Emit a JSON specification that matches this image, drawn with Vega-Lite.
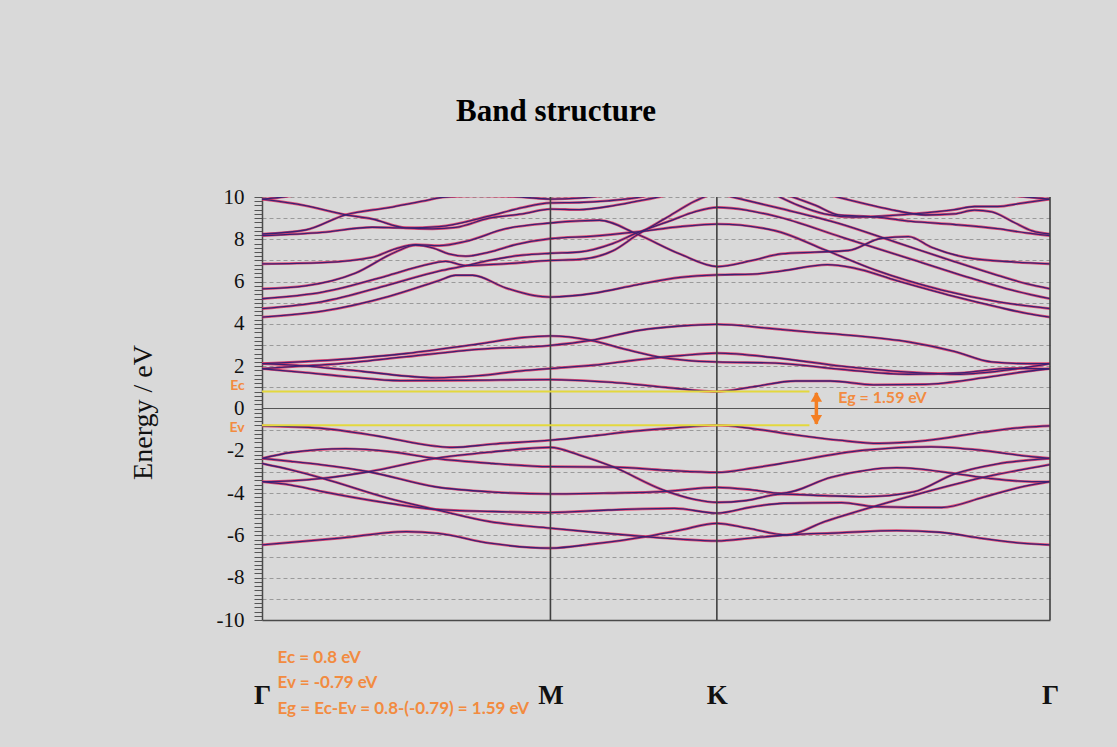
{
"$schema": "https://vega.github.io/schema/vega-lite/v6.json",
"width": 788, "height": 423,
"autosize": {"type": "none"},
"padding": {"left": 262, "top": 197, "right": 67, "bottom": 127},
"background": "#d9d9d9",
"config": {"view": {"stroke": null, "fill": "#d9d9d9"}},
"title": {"text": "Band structure", "font": "Liberation Serif", "fontSize": 31, "fontWeight": "bold", "color": "#000000", "frame": "group", "anchor": "middle", "dx": -100, "offset": 58},
"datasets": {
"bands": [
{"b":"V1","k":0,"e":-0.82},{"b":"V1","k":0.2,"e":-0.93},{"b":"V1","k":0.4,"e":-1.3},{"b":"V1","k":0.6,"e":-1.78},{"b":"V1","k":0.66,"e":-1.84},{"b":"V1","k":0.8,"e":-1.68},{"b":"V1","k":1,"e":-1.5},{"b":"V1","k":1.15,"e":-1.29},{"b":"V1","k":1.29,"e":-1.07},{"b":"V1","k":1.43,"e":-0.92},{"b":"V1","k":1.577,"e":-0.79},{"b":"V1","k":1.7,"e":-0.95},{"b":"V1","k":1.85,"e":-1.25},{"b":"V1","k":2,"e":-1.5},{"b":"V1","k":2.14,"e":-1.65},{"b":"V1","k":2.3,"e":-1.52},{"b":"V1","k":2.5,"e":-1.12},{"b":"V1","k":2.65,"e":-0.88},{"b":"V1","k":2.732,"e":-0.82},
{"b":"V2","k":0,"e":-2.36},{"b":"V2","k":0.1,"e":-2.08},{"b":"V2","k":0.29,"e":-1.9},{"b":"V2","k":0.45,"e":-2.05},{"b":"V2","k":0.6,"e":-2.36},{"b":"V2","k":0.8,"e":-2.6},{"b":"V2","k":1,"e":-2.75},{"b":"V2","k":1.22,"e":-2.77},{"b":"V2","k":1.4,"e":-2.92},{"b":"V2","k":1.577,"e":-3.02},{"b":"V2","k":1.7,"e":-2.82},{"b":"V2","k":1.8,"e":-2.6},{"b":"V2","k":2.09,"e":-1.97},{"b":"V2","k":2.32,"e":-1.81},{"b":"V2","k":2.49,"e":-1.97},{"b":"V2","k":2.62,"e":-2.2},{"b":"V2","k":2.732,"e":-2.36},
{"b":"V3","k":0,"e":-3.46},{"b":"V3","k":0.1,"e":-3.42},{"b":"V3","k":0.21,"e":-3.3},{"b":"V3","k":0.37,"e":-2.99},{"b":"V3","k":0.6,"e":-2.36},{"b":"V3","k":0.8,"e":-2.05},{"b":"V3","k":1,"e":-1.84},{"b":"V3","k":1.1,"e":-2.2},{"b":"V3","k":1.216,"e":-2.75},{"b":"V3","k":1.39,"e":-3.85},{"b":"V3","k":1.5,"e":-4.3},{"b":"V3","k":1.577,"e":-4.44},{"b":"V3","k":1.68,"e":-4.35},{"b":"V3","k":1.8,"e":-4.05},{"b":"V3","k":1.95,"e":-4.12},{"b":"V3","k":2.09,"e":-4.17},{"b":"V3","k":2.26,"e":-3.94},{"b":"V3","k":2.4,"e":-3.1},{"b":"V3","k":2.55,"e":-2.62},{"b":"V3","k":2.732,"e":-2.36},
{"b":"V4","k":0,"e":-2.36},{"b":"V4","k":0.1,"e":-2.5},{"b":"V4","k":0.21,"e":-2.67},{"b":"V4","k":0.37,"e":-2.99},{"b":"V4","k":0.6,"e":-3.7},{"b":"V4","k":0.8,"e":-3.95},{"b":"V4","k":1,"e":-4.04},{"b":"V4","k":1.2,"e":-4},{"b":"V4","k":1.39,"e":-3.93},{"b":"V4","k":1.577,"e":-3.73},{"b":"V4","k":1.7,"e":-3.85},{"b":"V4","k":1.8,"e":-4.01},{"b":"V4","k":1.975,"e":-3.25},{"b":"V4","k":2.2,"e":-2.8},{"b":"V4","k":2.4,"e":-3.07},{"b":"V4","k":2.52,"e":-3.3},{"b":"V4","k":2.67,"e":-3.46},{"b":"V4","k":2.732,"e":-3.46},
{"b":"V5","k":0,"e":-2.6},{"b":"V5","k":0.1,"e":-2.9},{"b":"V5","k":0.21,"e":-3.3},{"b":"V5","k":0.44,"e":-4.25},{"b":"V5","k":0.6,"e":-4.77},{"b":"V5","k":0.79,"e":-5.35},{"b":"V5","k":1,"e":-5.66},{"b":"V5","k":1.15,"e":-5.85},{"b":"V5","k":1.33,"e":-6.06},{"b":"V5","k":1.45,"e":-6.18},{"b":"V5","k":1.577,"e":-6.26},{"b":"V5","k":1.7,"e":-6.12},{"b":"V5","k":1.82,"e":-5.98},{"b":"V5","k":2,"e":-5.88},{"b":"V5","k":2.2,"e":-5.77},{"b":"V5","k":2.35,"e":-5.85},{"b":"V5","k":2.5,"e":-6.15},{"b":"V5","k":2.62,"e":-6.35},{"b":"V5","k":2.732,"e":-6.45},
{"b":"V6","k":0,"e":-3.46},{"b":"V6","k":0.1,"e":-3.62},{"b":"V6","k":0.21,"e":-3.93},{"b":"V6","k":0.44,"e":-4.48},{"b":"V6","k":0.6,"e":-4.77},{"b":"V6","k":0.8,"e":-4.87},{"b":"V6","k":1,"e":-4.92},{"b":"V6","k":1.2,"e":-4.8},{"b":"V6","k":1.43,"e":-4.72},{"b":"V6","k":1.577,"e":-4.95},{"b":"V6","k":1.7,"e":-4.65},{"b":"V6","k":1.81,"e":-4.48},{"b":"V6","k":2.01,"e":-4.45},{"b":"V6","k":2.125,"e":-4.64},{"b":"V6","k":2.357,"e":-4.68},{"b":"V6","k":2.5,"e":-4.2},{"b":"V6","k":2.62,"e":-3.75},{"b":"V6","k":2.732,"e":-3.46},
{"b":"V7","k":0,"e":-6.45},{"b":"V7","k":0.27,"e":-6.13},{"b":"V7","k":0.5,"e":-5.82},{"b":"V7","k":0.61,"e":-5.9},{"b":"V7","k":0.79,"e":-6.37},{"b":"V7","k":1,"e":-6.6},{"b":"V7","k":1.15,"e":-6.4},{"b":"V7","k":1.33,"e":-6.06},{"b":"V7","k":1.45,"e":-5.75},{"b":"V7","k":1.577,"e":-5.43},{"b":"V7","k":1.685,"e":-5.66},{"b":"V7","k":1.82,"e":-5.98},{"b":"V7","k":1.95,"e":-5.35},{"b":"V7","k":2.12,"e":-4.64},{"b":"V7","k":2.3,"e":-3.95},{"b":"V7","k":2.52,"e":-3.2},{"b":"V7","k":2.732,"e":-2.65},
{"b":"C1","k":0,"e":1.88},{"b":"C1","k":0.15,"e":1.7},{"b":"C1","k":0.3,"e":1.5},{"b":"C1","k":0.48,"e":1.32},{"b":"C1","k":0.7,"e":1.33},{"b":"C1","k":1,"e":1.37},{"b":"C1","k":1.2,"e":1.25},{"b":"C1","k":1.4,"e":1},{"b":"C1","k":1.5,"e":0.86},{"b":"C1","k":1.577,"e":0.8},{"b":"C1","k":1.7,"e":1.02},{"b":"C1","k":1.85,"e":1.3},{"b":"C1","k":1.97,"e":1.3},{"b":"C1","k":2.12,"e":1.12},{"b":"C1","k":2.3,"e":1.14},{"b":"C1","k":2.5,"e":1.45},{"b":"C1","k":2.65,"e":1.75},{"b":"C1","k":2.732,"e":1.88},
{"b":"C2","k":0,"e":2.12},{"b":"C2","k":0.13,"e":2.03},{"b":"C2","k":0.35,"e":1.75},{"b":"C2","k":0.6,"e":1.45},{"b":"C2","k":0.75,"e":1.55},{"b":"C2","k":0.9,"e":1.78},{"b":"C2","k":1,"e":1.89},{"b":"C2","k":1.15,"e":2.05},{"b":"C2","k":1.3,"e":2.3},{"b":"C2","k":1.45,"e":2.5},{"b":"C2","k":1.577,"e":2.62},{"b":"C2","k":1.78,"e":2.4},{"b":"C2","k":2.01,"e":2},{"b":"C2","k":2.24,"e":1.72},{"b":"C2","k":2.42,"e":1.62},{"b":"C2","k":2.6,"e":1.85},{"b":"C2","k":2.732,"e":2.12},
{"b":"C3","k":0,"e":1.88},{"b":"C3","k":0.13,"e":2},{"b":"C3","k":0.25,"e":2.1},{"b":"C3","k":0.5,"e":2.45},{"b":"C3","k":0.75,"e":2.8},{"b":"C3","k":1,"e":2.98},{"b":"C3","k":1.14,"e":3.22},{"b":"C3","k":1.31,"e":3.7},{"b":"C3","k":1.45,"e":3.9},{"b":"C3","k":1.577,"e":3.98},{"b":"C3","k":1.75,"e":3.8},{"b":"C3","k":1.894,"e":3.62},{"b":"C3","k":2.05,"e":3.45},{"b":"C3","k":2.241,"e":3.15},{"b":"C3","k":2.4,"e":2.7},{"b":"C3","k":2.53,"e":2.2},{"b":"C3","k":2.65,"e":2.12},{"b":"C3","k":2.732,"e":2.12},
{"b":"C4","k":0,"e":2.12},{"b":"C4","k":0.25,"e":2.3},{"b":"C4","k":0.5,"e":2.6},{"b":"C4","k":0.75,"e":3.05},{"b":"C4","k":0.9,"e":3.35},{"b":"C4","k":1,"e":3.43},{"b":"C4","k":1.14,"e":3.22},{"b":"C4","k":1.26,"e":2.8},{"b":"C4","k":1.37,"e":2.45},{"b":"C4","k":1.47,"e":2.28},{"b":"C4","k":1.577,"e":2.2},{"b":"C4","k":1.78,"e":2.15},{"b":"C4","k":2.01,"e":1.85},{"b":"C4","k":2.24,"e":1.62},{"b":"C4","k":2.42,"e":1.68},{"b":"C4","k":2.6,"e":1.9},{"b":"C4","k":2.732,"e":1.88},
{"b":"U1","k":0,"e":9.9},{"b":"U1","k":0.1,"e":10.05},{"b":"U1","k":0.2,"e":10.35},
{"b":"U2","k":0,"e":9.9},{"b":"U2","k":0.151,"e":9.59},{"b":"U2","k":0.29,"e":9.16},{"b":"U2","k":0.382,"e":8.96},{"b":"U2","k":0.498,"e":8.54},{"b":"U2","k":0.591,"e":8.49},{"b":"U2","k":0.672,"e":8.56},{"b":"U2","k":0.787,"e":9},{"b":"U2","k":0.903,"e":9.2},{"b":"U2","k":1,"e":9.43},{"b":"U2","k":1.1,"e":9.4},{"b":"U2","k":1.2,"e":9.55},{"b":"U2","k":1.3,"e":9.8},{"b":"U2","k":1.39,"e":10.05},{"b":"U2","k":1.45,"e":10.3},
{"b":"U3","k":0,"e":8.25},{"b":"U3","k":0.151,"e":8.44},{"b":"U3","k":0.29,"e":9.16},{"b":"U3","k":0.44,"e":9.5},{"b":"U3","k":0.556,"e":9.8},{"b":"U3","k":0.637,"e":10},{"b":"U3","k":0.75,"e":10.05},{"b":"U3","k":0.9,"e":10},{"b":"U3","k":1,"e":9.9},{"b":"U3","k":1.1,"e":9.95},{"b":"U3","k":1.2,"e":10.1},{"b":"U3","k":1.3,"e":10.4},
{"b":"U4","k":0,"e":8.17},{"b":"U4","k":0.209,"e":8.33},{"b":"U4","k":0.382,"e":8.57},{"b":"U4","k":0.498,"e":8.54},{"b":"U4","k":0.614,"e":8.6},{"b":"U4","k":0.787,"e":9.1},{"b":"U4","k":0.903,"e":9.5},{"b":"U4","k":1,"e":9.72},{"b":"U4","k":1.1,"e":9.74},{"b":"U4","k":1.2,"e":9.82},{"b":"U4","k":1.3,"e":9.97},{"b":"U4","k":1.35,"e":10.1},{"b":"U4","k":1.4,"e":10.3},
{"b":"U5","k":0,"e":6.84},{"b":"U5","k":0.209,"e":6.9},{"b":"U5","k":0.382,"e":7.15},{"b":"U5","k":0.463,"e":7.55},{"b":"U5","k":0.533,"e":7.75},{"b":"U5","k":0.614,"e":7.7},{"b":"U5","k":0.706,"e":7.9},{"b":"U5","k":0.845,"e":8.5},{"b":"U5","k":1,"e":8.77},{"b":"U5","k":1.1,"e":8.87},{"b":"U5","k":1.17,"e":8.9},{"b":"U5","k":1.3,"e":8.25},{"b":"U5","k":1.448,"e":7.31},{"b":"U5","k":1.579,"e":6.71},{"b":"U5","k":1.7,"e":7},{"b":"U5","k":1.8,"e":7.31},{"b":"U5","k":1.917,"e":7.39},{"b":"U5","k":2.033,"e":7.47},{"b":"U5","k":2.148,"e":8.05},{"b":"U5","k":2.241,"e":8.13},{"b":"U5","k":2.322,"e":7.62},{"b":"U5","k":2.438,"e":7.15},{"b":"U5","k":2.612,"e":6.92},{"b":"U5","k":2.732,"e":6.84},
{"b":"U6","k":0,"e":5.66},{"b":"U6","k":0.151,"e":5.8},{"b":"U6","k":0.324,"e":6.4},{"b":"U6","k":0.463,"e":7.4},{"b":"U6","k":0.533,"e":7.72},{"b":"U6","k":0.591,"e":7.6},{"b":"U6","k":0.648,"e":7.31},{"b":"U6","k":0.706,"e":7.2},{"b":"U6","k":0.787,"e":7.39},{"b":"U6","k":0.88,"e":7.75},{"b":"U6","k":1,"e":8.03},{"b":"U6","k":1.15,"e":8.15},{"b":"U6","k":1.3,"e":8.35},{"b":"U6","k":1.45,"e":8.6},{"b":"U6","k":1.579,"e":8.72},{"b":"U6","k":1.778,"e":8.41},{"b":"U6","k":1.952,"e":7.5},{"b":"U6","k":2.125,"e":6.55},{"b":"U6","k":2.357,"e":5.6},{"b":"U6","k":2.55,"e":5.05},{"b":"U6","k":2.732,"e":4.72},
{"b":"U7","k":0,"e":5.19},{"b":"U7","k":0.209,"e":5.5},{"b":"U7","k":0.44,"e":6.3},{"b":"U7","k":0.556,"e":6.75},{"b":"U7","k":0.637,"e":6.96},{"b":"U7","k":0.706,"e":6.76},{"b":"U7","k":0.85,"e":6.85},{"b":"U7","k":1,"e":7},{"b":"U7","k":1.1,"e":7.05},{"b":"U7","k":1.216,"e":7.45},{"b":"U7","k":1.3,"e":8.2},{"b":"U7","k":1.4,"e":9},{"b":"U7","k":1.5,"e":9.8},{"b":"U7","k":1.55,"e":10.1},{"b":"U7","k":1.6,"e":10.4},
{"b":"U8","k":0,"e":4.72},{"b":"U8","k":0.209,"e":5.05},{"b":"U8","k":0.44,"e":5.85},{"b":"U8","k":0.614,"e":6.5},{"b":"U8","k":0.706,"e":6.75},{"b":"U8","k":0.787,"e":7},{"b":"U8","k":0.903,"e":7.25},{"b":"U8","k":1,"e":7.34},{"b":"U8","k":1.1,"e":7.4},{"b":"U8","k":1.216,"e":7.8},{"b":"U8","k":1.3,"e":8.3},{"b":"U8","k":1.42,"e":8.9},{"b":"U8","k":1.5,"e":9.3},{"b":"U8","k":1.579,"e":9.51},{"b":"U8","k":1.778,"e":9.1},{"b":"U8","k":2.01,"e":8.1},{"b":"U8","k":2.241,"e":7.1},{"b":"U8","k":2.473,"e":6.1},{"b":"U8","k":2.6,"e":5.6},{"b":"U8","k":2.732,"e":5.19},
{"b":"U9","k":0,"e":4.32},{"b":"U9","k":0.209,"e":4.6},{"b":"U9","k":0.44,"e":5.3},{"b":"U9","k":0.614,"e":6.05},{"b":"U9","k":0.672,"e":6.3},{"b":"U9","k":0.73,"e":6.3},{"b":"U9","k":0.845,"e":5.7},{"b":"U9","k":0.94,"e":5.35},{"b":"U9","k":1,"e":5.27},{"b":"U9","k":1.15,"e":5.45},{"b":"U9","k":1.3,"e":5.85},{"b":"U9","k":1.45,"e":6.2},{"b":"U9","k":1.579,"e":6.32},{"b":"U9","k":1.7,"e":6.35},{"b":"U9","k":1.8,"e":6.5},{"b":"U9","k":1.96,"e":6.8},{"b":"U9","k":2.05,"e":6.65},{"b":"U9","k":2.2,"e":6.05},{"b":"U9","k":2.4,"e":5.3},{"b":"U9","k":2.55,"e":4.8},{"b":"U9","k":2.65,"e":4.5},{"b":"U9","k":2.732,"e":4.32},
{"b":"X1","k":1.6,"e":10.1},{"b":"X1","k":1.8,"e":9.45},{"b":"X1","k":2,"e":8.75},{"b":"X1","k":2.2,"e":7.85},{"b":"X1","k":2.4,"e":6.95},{"b":"X1","k":2.55,"e":6.3},{"b":"X1","k":2.65,"e":5.9},{"b":"X1","k":2.732,"e":5.66},
{"b":"Y1","k":1.78,"e":10.1},{"b":"Y1","k":1.86,"e":9.6},{"b":"Y1","k":1.95,"e":9.2},{"b":"Y1","k":2.05,"e":9.05},{"b":"Y1","k":2.15,"e":9.1},{"b":"Y1","k":2.3,"e":9.25},{"b":"Y1","k":2.4,"e":9.4},{"b":"Y1","k":2.47,"e":9.55},{"b":"Y1","k":2.55,"e":9.55},{"b":"Y1","k":2.63,"e":9.7},{"b":"Y1","k":2.732,"e":9.9},
{"b":"Y2","k":1.98,"e":10.05},{"b":"Y2","k":2.1,"e":9.65},{"b":"Y2","k":2.2,"e":9.35},{"b":"Y2","k":2.3,"e":9.15},{"b":"Y2","k":2.4,"e":9.2},{"b":"Y2","k":2.47,"e":9.38},{"b":"Y2","k":2.53,"e":9.3},{"b":"Y2","k":2.6,"e":8.85},{"b":"Y2","k":2.67,"e":8.4},{"b":"Y2","k":2.732,"e":8.25},
{"b":"Y3","k":1.83,"e":10.05},{"b":"Y3","k":1.92,"e":9.6},{"b":"Y3","k":2,"e":9.15},{"b":"Y3","k":2.07,"e":9.1},{"b":"Y3","k":2.13,"e":9.05},{"b":"Y3","k":2.25,"e":8.85},{"b":"Y3","k":2.4,"e":8.7},{"b":"Y3","k":2.55,"e":8.5},{"b":"Y3","k":2.65,"e":8.3},{"b":"Y3","k":2.732,"e":8.17},
{"b":"Y4","k":2.58,"e":10.1},{"b":"Y4","k":2.65,"e":10},{"b":"Y4","k":2.732,"e":9.9}
],
"zero": [{"k": 0, "e": 0}],
"sym": [{"k": 1, "e": 0}, {"k": 1.577, "e": 0}, {"k": 2.732, "e": 0}],
"levels": [{"k": 0, "k1": 1.898, "e": 0.8}, {"k": 0, "k1": 1.898, "e": -0.79}],
"arrow": [{"k": 1.922, "e": 0.74, "bot": -0.73, "up": 0.55, "dn": -0.54}],
"sidelabels": [{"k": -0.06, "e": 1.05, "t": "Ec"}, {"k": -0.06, "e": -0.93, "t": "Ev"}],
"eg": [{"k": 1.998, "e": 0.49, "t": "Eg = 1.59 eV"}],
"notes": [{"k": 0.054, "e": -11.79, "t": "Ec = 0.8 eV"}, {"k": 0.054, "e": -13.0, "t": "Ev = -0.79 eV"}, {"k": 0.054, "e": -14.2, "t": "Eg = Ec-Ev = 0.8-(-0.79) = 1.59 eV"}]
},
"layer": [
{"data": {"name": "bands"}, "mark": {"type": "line", "interpolate": "monotone", "clip": true, "color": "#df3060", "strokeWidth": 2.6, "opacity": 0.85},
 "encoding": {
  "x": {"field": "k", "type": "quantitative", "scale": {"domain": [0, 2.732], "nice": false, "zero": false},
   "axis": {"values": [0, 1, 1.577, 2.732], "labelExpr": "datum.value < 0.5 || datum.value > 2.5 ? 'Γ' : (datum.value < 1.2 ? 'M' : 'K')", "title": null, "grid": false, "ticks": false, "tickSize": 0, "domain": true, "domainColor": "#4a4a4a", "domainWidth": 1.5, "labelFont": "Liberation Serif", "labelFontSize": 27, "labelFontWeight": "bold", "labelColor": "#111111", "labelPadding": 62, "labelFlush": false, "labelOverlap": false, "labelBound": false}},
  "y": {"field": "e", "type": "quantitative", "scale": {"domain": [-10, 10], "nice": false, "zero": false},
   "axis": {"tickCount": 100, "labelExpr": "datum.value % 2 === 0 ? '' + datum.value : ''", "labelOverlap": false, "labelBound": false, "labelFont": "Liberation Serif", "labelFontSize": 21, "labelColor": "#111111", "labelPadding": 10, "ticks": true, "tickSize": 8, "tickColor": "#555555", "tickWidth": 1, "domain": true, "domainColor": "#4a4a4a", "domainWidth": 1.5,
    "grid": true, "gridColor": "#9a9a9a", "gridDash": [4, 3], "gridWidth": 1,
    "gridOpacity": {"condition": {"test": "datum.value % 1 === 0 && datum.value !== 0 && datum.value !== -10", "value": 1}, "value": 0},
    "title": "Energy / eV", "titleFont": "Liberation Serif", "titleFontSize": 28, "titleFontWeight": "normal", "titleColor": "#111111", "titleAngle": -90, "titleX": -119, "titleY": 215, "titleAlign": "center", "titleBaseline": "middle"}},
  "detail": {"field": "b", "type": "nominal"}}},
{"data": {"name": "bands"}, "mark": {"type": "line", "interpolate": "monotone", "clip": true, "color": "#3a2274", "strokeWidth": 1.3},
 "encoding": {
  "x": {"field": "k", "type": "quantitative"},
  "y": {"field": "e", "type": "quantitative"},
  "detail": {"field": "b", "type": "nominal"}}},
{"data": {"name": "zero"}, "mark": {"type": "rule", "color": "#555555", "strokeWidth": 1},
 "encoding": {"y": {"field": "e", "type": "quantitative"}}},
{"data": {"name": "sym"}, "mark": {"type": "rule", "color": "#3f3f3f", "strokeWidth": 1.6},
 "encoding": {"x": {"field": "k", "type": "quantitative"}}},
{"data": {"name": "levels"}, "mark": {"type": "rule", "color": "#e3d83e", "strokeWidth": 2},
 "encoding": {
  "x": {"field": "k", "type": "quantitative"},
  "x2": {"field": "k1"},
  "y": {"field": "e", "type": "quantitative"}}},
{"data": {"name": "arrow"}, "mark": {"type": "rule", "color": "#f47f24", "strokeWidth": 3.5},
 "encoding": {
  "x": {"field": "k", "type": "quantitative"},
  "y": {"field": "e", "type": "quantitative"},
  "y2": {"field": "bot"}}},
{"data": {"name": "arrow"}, "mark": {"type": "point", "shape": "triangle-up", "filled": true, "color": "#f47f24", "size": 130, "opacity": 1},
 "encoding": {
  "x": {"field": "k", "type": "quantitative"},
  "y": {"field": "up", "type": "quantitative"}}},
{"data": {"name": "arrow"}, "mark": {"type": "point", "shape": "triangle-down", "filled": true, "color": "#f47f24", "size": 130, "opacity": 1},
 "encoding": {
  "x": {"field": "k", "type": "quantitative"},
  "y": {"field": "dn", "type": "quantitative"}}},
{"data": {"name": "sidelabels"}, "mark": {"type": "text", "align": "right", "baseline": "middle", "font": "Lato", "fontWeight": "bold", "fontSize": 14, "color": "#f28b40"},
 "encoding": {
  "x": {"field": "k", "type": "quantitative"},
  "y": {"field": "e", "type": "quantitative"},
  "text": {"field": "t"}}},
{"data": {"name": "eg"}, "mark": {"type": "text", "align": "left", "baseline": "middle", "font": "Lato", "fontWeight": "bold", "fontSize": 16, "color": "#f28b40"},
 "encoding": {
  "x": {"field": "k", "type": "quantitative"},
  "y": {"field": "e", "type": "quantitative"},
  "text": {"field": "t"}}},
{"data": {"name": "notes"}, "mark": {"type": "text", "align": "left", "baseline": "middle", "font": "Lato", "fontWeight": "bold", "fontSize": 17, "color": "#f28b40"},
 "encoding": {
  "x": {"field": "k", "type": "quantitative"},
  "y": {"field": "e", "type": "quantitative"},
  "text": {"field": "t"}}}
]
}
